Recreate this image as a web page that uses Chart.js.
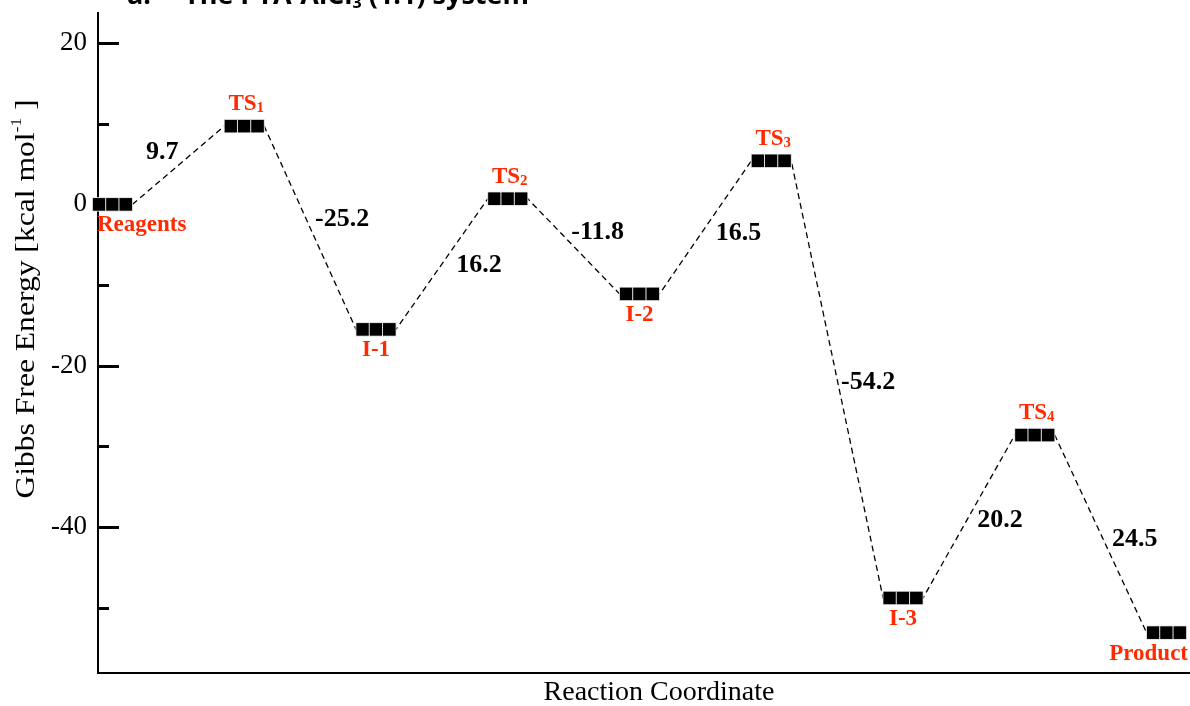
<!DOCTYPE html>
<html>
<head>
<meta charset="utf-8">
<script src="https://cdn.jsdelivr.net/npm/chart.js@4.4.0/dist/chart.umd.min.js"></script>
<style>
  html, body { margin: 0; padding: 0; background: #fff; }
  #wrap { width: 1190px; height: 706px; position: relative; }
</style>
</head>
<body>
<div id="wrap"><canvas id="myChart"></canvas></div>
<script>
  // DATA
  const steps = [0, 1, 2, 3, 4, 5, 6, 7, 8];
  const levelNames = ['Reagents', 'TS1', 'I-1', 'TS2', 'I-2', 'TS3', 'I-3', 'TS4', 'Product'];
  const energies = [0, 9.7, -15.5, 0.7, -11.1, 5.4, -48.8, -28.6, -53.1];
  const stepLabels = ['9.7', '-25.2', '16.2', '-11.8', '16.5', '-54.2', '20.2', '24.5'];
  const yTickLabels = [20, 0, -20, -40];

  // styling
  const RED = '#ff2a00';
  const SERIF = "'Liberation Serif', 'Times New Roman', serif";
  const SANS = "'Open Sans', sans-serif";
  const CELL = 0.101;   // width of one level cell in x units
  const nameSide = ['below', 'above', 'below', 'above', 'below', 'above', 'below', 'above', 'below'];
  const stepOffset = [[-16, -13], [32, -8], [37, 1], [24, -14], [33, 6], [31, 3], [31, 4], [34, 5]];

  // level bars = 3 square cells each, connectors = dashed path between bar ends
  const cells = [];
  const path = [];
  steps.forEach((s, i) => {
    [-1, 0, 1].forEach(k => cells.push({x: s + k * CELL, y: energies[i]}));
    path.push({x: s - 1.5 * CELL, y: energies[i]});
    path.push({x: s + 1.5 * CELL, y: energies[i]});
  });

  // draws text with an optional sub/superscript part
  function drawPieces(ctx, pieces, x, y, align) {
    let total = 0;
    pieces.forEach(p => { ctx.font = p.font; p.w = ctx.measureText(p.t).width; total += p.w; });
    let cx = align === 'center' ? x - total / 2 : (align === 'right' ? x - total : x);
    ctx.textAlign = 'left';
    pieces.forEach(p => {
      ctx.font = p.font;
      ctx.fillText(p.t, cx, y + (p.dy || 0));
      cx += p.w;
    });
  }

  const deco = {
    id: 'deco',
    beforeDatasetsDraw(chart) {
      const {ctx, chartArea: a, scales: {y}} = chart;
      ctx.save();
      ctx.strokeStyle = '#000';
      ctx.lineWidth = 2;
      ctx.beginPath();
      ctx.moveTo(a.left, a.top);
      ctx.lineTo(a.left, a.bottom);
      ctx.lineTo(a.right, a.bottom);
      ctx.stroke();
      ctx.lineWidth = 3;
      y.ticks.forEach(t => {
        if (t.value % 10 !== 0) return;
        const py = Math.round(y.getPixelForValue(t.value)) + 0.5;
        const len = t.value % 20 === 0 ? 21 : 11;
        ctx.beginPath();
        ctx.moveTo(a.left, py);
        ctx.lineTo(a.left + len, py);
        ctx.stroke();
      });
      ctx.restore();
    },
    afterDatasetsDraw(chart) {
      const {ctx, chartArea: a, scales: {x, y}} = chart;
      ctx.save();
      ctx.textBaseline = 'middle';

      // level names (red)
      ctx.fillStyle = RED;
      const nf = 'bold 23px ' + SERIF;
      const sf = 'bold 15px ' + SERIF;
      levelNames.forEach((n, i) => {
        const px = x.getPixelForValue(steps[i]);
        const py = y.getPixelForValue(energies[i]) + (nameSide[i] === 'above' ? -22 : 21);
        const m = n.match(/^TS(\d)$/);
        if (m) {
          drawPieces(ctx, [{t: 'TS', font: nf}, {t: m[1], font: sf, dy: 4}], px + 2, py, 'center');
        } else if (i === 0) {
          drawPieces(ctx, [{t: n, font: nf}], a.left - 1, py, 'left');
        } else if (i === levelNames.length - 1) {
          drawPieces(ctx, [{t: n, font: nf}], a.right - 2, py, 'right');
        } else {
          drawPieces(ctx, [{t: n, font: nf}], px, py, 'center');
        }
      });

      // step energies (black bold)
      ctx.fillStyle = '#000';
      ctx.font = 'bold 26px ' + SERIF;
      ctx.textAlign = 'center';
      stepLabels.forEach((s, i) => {
        const x1 = x.getPixelForValue(steps[i] + 1.5 * CELL), y1 = y.getPixelForValue(energies[i]);
        const x2 = x.getPixelForValue(steps[i + 1] - 1.5 * CELL), y2 = y.getPixelForValue(energies[i + 1]);
        ctx.fillText(s, (x1 + x2) / 2 + stepOffset[i][0], (y1 + y2) / 2 + stepOffset[i][1]);
      });

      // axis titles
      ctx.font = '28px ' + SERIF;
      ctx.fillText('Reaction Coordinate', 659, 693);

      ctx.translate(27, 299);
      ctx.rotate(-Math.PI / 2);
      ctx.scale(1.17, 1);
      drawPieces(ctx, [
        {t: 'Gibbs Free Energy [kcal mol', font: '27px ' + SERIF},
        {t: '-1', font: '15px ' + SERIF, dy: -10},
        {t: ' ]', font: '27px ' + SERIF}
      ], 0, 0, 'center');
      ctx.restore();

      // panel title, cut off at the top edge
      ctx.save();
      ctx.fillStyle = '#000';
      ctx.textBaseline = 'alphabetic';
      ctx.font = 'bold 27px ' + SANS;
      ctx.textAlign = 'left';
      ctx.fillText('a.', 127, 4);
      drawPieces(ctx, [
        {t: 'The PTA-AlCl', font: 'bold 27px ' + SANS},
        {t: '3', font: 'bold 16px ' + SANS, dy: 4},
        {t: ' (1:1) system', font: 'bold 27px ' + SANS}
      ], 184, 4, 'left');
      ctx.restore();
    }
  };

  const data = {
    datasets: [
      {
        label: 'levels',
        data: cells,
        showLine: false,
        pointStyle: 'rect',
        pointRadius: 9.6,
        pointBackgroundColor: '#000',
        pointBorderColor: '#fff',
        pointBorderWidth: 0.8,
        clip: false,
        order: 0
      },
      {
        label: 'path',
        data: path,
        borderColor: '#000',
        borderWidth: 1.3,
        borderDash: [6, 4],
        pointRadius: 0,
        fill: false,
        tension: 0,
        clip: false,
        order: 1
      }
    ]
  };

  const config = {
    type: 'line',
    data,
    options: {
      responsive: true,
      maintainAspectRatio: false,
      animation: false,
      layout: { autoPadding: false, padding: { top: 12, right: 0, bottom: 33, left: 0 } },
      plugins: {
        legend: { display: false },
        tooltip: { enabled: false }
      },
      scales: {
        x: {
          type: 'linear',
          min: -0.11,
          max: 8.178,
          display: false
        },
        y: {
          type: 'linear',
          min: -58.1,
          max: 23.85,
          grid: { display: false, drawTicks: false },
          border: { display: false },
          ticks: {
            stepSize: 10,
            padding: 11,
            color: '#000',
            font: { family: SERIF, size: 27 },
            callback: v => yTickLabels.includes(v) ? v : ''
          },
          afterFit: s => { s.width = 98; s.paddingTop = 0; s.paddingBottom = 0; }
        }
      }
    },
    plugins: [deco]
  };

  var myChart = new Chart(document.getElementById('myChart'), config);
</script>
</body>
</html>
